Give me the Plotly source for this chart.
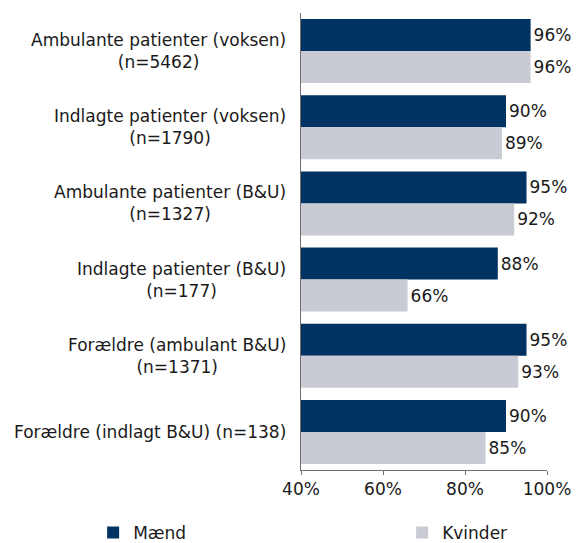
import plotly.graph_objects as go

categories = [
    "Ambulante patienter (voksen)<br>(n=5462)",
    "Indlagte patienter (voksen)<br>(n=1790)",
    "Ambulante patienter (B&U)<br>(n=1327)",
    "Indlagte patienter (B&U)<br>(n=177)",
    "Forældre (ambulant B&U)<br>(n=1371)",
    "Forældre (indlagt B&U) (n=138)",
]
maend = [96, 90, 95, 88, 95, 90]
kvinder = [96, 89, 92, 66, 93, 85]
x_ticks = [40, 60, 80, 100]
x_ticklabels = ["40%", "60%", "80%", "100%"]

FONT = "DejaVu Sans"
TXT = "#1a1a1a"
fs = 17

fig = go.Figure()
fig.add_trace(go.Bar(
    y=categories, x=maend, orientation="h", name="Mænd",
    marker=dict(color="#003262", line=dict(width=0)),
    text=[f"{v}%" for v in maend], textposition="outside",
    textfont=dict(family=FONT, size=fs, color=TXT), cliponaxis=False,
    legendwidth=264, hoverinfo="skip",
))
fig.add_trace(go.Bar(
    y=categories, x=kvinder, orientation="h", name="Kvinder",
    marker=dict(color="#C9CBD4", line=dict(width=0)),
    text=[f"{v}%" for v in kvinder], textposition="outside",
    textfont=dict(family=FONT, size=fs, color=TXT), cliponaxis=False,
    legendwidth=120, hoverinfo="skip",
))

for c in categories:
    fig.add_annotation(
        x=0, xref="paper", y=c, yref="y", text=c, showarrow=False,
        xanchor="right", yanchor="middle", align="center", xshift=-13,
        font=dict(family=FONT, size=fs, color=TXT),
    )

fig.update_layout(
    width=580, height=543,
    margin=dict(l=301, r=33, t=13, b=73, autoexpand=False),
    paper_bgcolor="white", plot_bgcolor="white",
    barmode="group", bargap=0.16, bargroupgap=0,
    font=dict(family=FONT, size=fs, color=TXT),
    showlegend=True,
    legend=dict(
        orientation="h", x=-0.845, xanchor="left", y=-0.138, yanchor="middle",
        font=dict(family=FONT, size=fs, color=TXT), traceorder="normal",
    ),
    xaxis=dict(
        range=[40, 100], tickvals=x_ticks, ticktext=x_ticklabels,
        showgrid=False, zeroline=False, showline=True, linecolor="#6f6f6f",
        linewidth=1, ticks="outside", ticklen=4, tickcolor="#6f6f6f",
        tickfont=dict(family=FONT, size=fs, color=TXT), automargin=False,
    ),
    yaxis=dict(
        autorange="reversed", showticklabels=False, showgrid=False,
        zeroline=False, showline=True, linecolor="#6f6f6f", linewidth=1,
        ticks="", automargin=False,
    ),
)

fig.write_html("out.html", config={"displayModeBar": False},
               post_script="document.body.style.margin='0';")
